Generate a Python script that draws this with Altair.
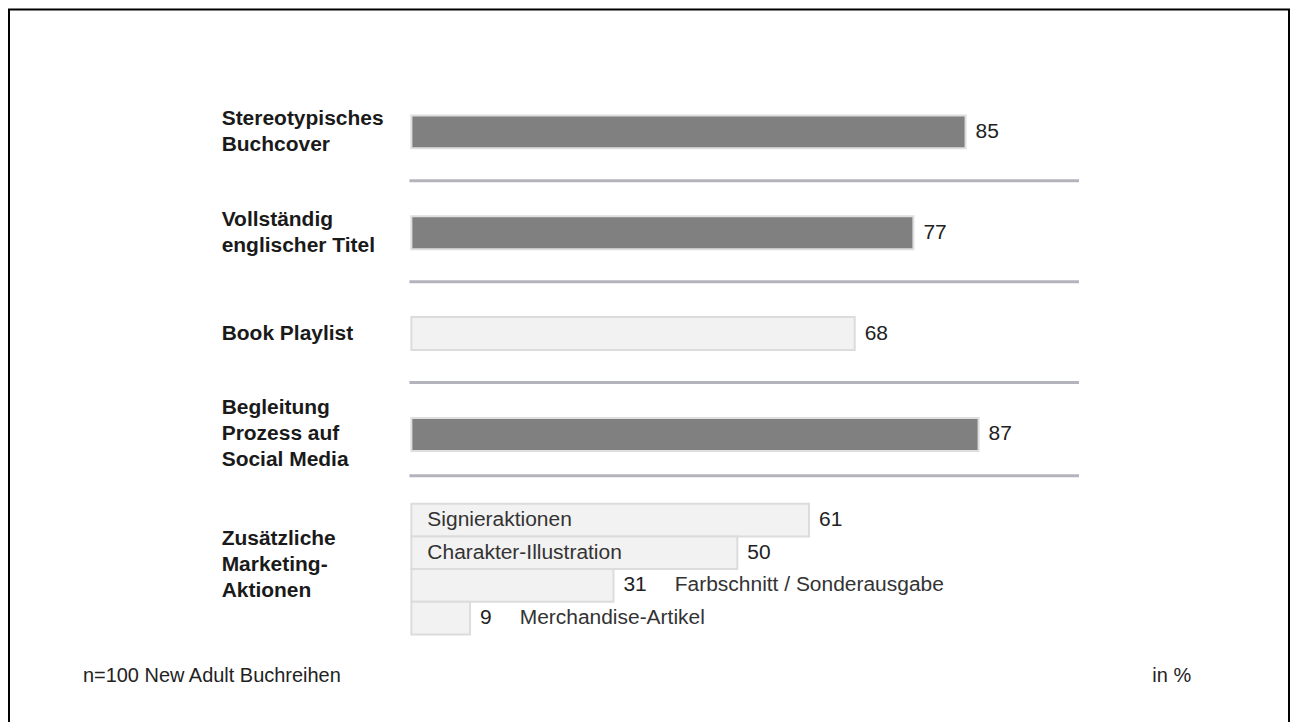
import altair as alt
import pandas as pd

# ---------------- data ----------------
main_labels = [
    "Stereotypisches\nBuchcover",
    "Vollständig\nenglischer Titel",
    "Book Playlist",
    "Begleitung\nProzess auf\nSocial Media",
]
main_values = [85, 77, 68, 87]
main_dark = [True, True, False, True]

group_label = "Zusätzliche\nMarketing-\nAktionen"
sub_labels = [
    "Signieraktionen",
    "Charakter-Illustration",
    "Farbschnitt / Sonderausgabe",
    "Merchandise-Artikel",
]
sub_values = [61, 50, 31, 9]
sub_inside = [True, True, False, False]

footnote = "n=100 New Adult Buchreihen"
unit_note = "in %"

# ---------------- layout ----------------
FONT = "Liberation Sans"
FS = 21
LH = 26
W, H = 1282, 730
PX = 6.53          # pixels per percentage point
X0 = 403           # pixel position of 0 %
ROW_TOP0, ROW_STEP, BAR_H = 106, 101, 33
SUB_TOP0, SUB_STEP = 495, 32.7
LABEL_X = 213

xs = alt.Scale(domain=[-X0 / PX, (W - X0) / PX], nice=False, zero=False)
ys = alt.Scale(domain=[0, H], reverse=True, nice=False, zero=False)


def block_start(center, text):
    n = text.count("\n") + 1
    return center - (n - 1) * LH / 2


bars = []
cat_rows = []
for i, (lab, v, dark) in enumerate(zip(main_labels, main_values, main_dark)):
    top = ROW_TOP0 + ROW_STEP * i
    bars.append(dict(x0=0, x1=v, y0=top, y1=top + BAR_H,
                     fill="#808080" if dark else "#f2f2f2",
                     stroke="#dedede" if dark else "#dcdcdc",
                     val=str(v)))
    cat_rows.append(dict(label=lab, y=block_start(top + BAR_H / 2, lab)))

sub_rows = []
for j, (lab, v, inside) in enumerate(zip(sub_labels, sub_values, sub_inside)):
    top = SUB_TOP0 + SUB_STEP * j
    bars.append(dict(x0=0, x1=v, y0=top, y1=top + SUB_STEP,
                     fill="#f2f2f2", stroke="#dcdcdc", val=str(v)))
    name_x = 0 if inside else v + (10 + 11.7 * len(str(v)) + 28) / PX
    sub_rows.append(dict(label=lab, x=name_x, y=top + SUB_STEP / 2,
                         inside=inside))
sub_top = SUB_TOP0
sub_bottom = SUB_TOP0 + SUB_STEP * len(sub_values)
cat_rows.append(dict(label=group_label,
                     y=block_start((sub_top + sub_bottom) / 2 - 4, group_label)))

bars_df = pd.DataFrame(bars)
bars_df["yc"] = (bars_df["y0"] + bars_df["y1"]) / 2
cat_df = pd.DataFrame(cat_rows)
sub_df = pd.DataFrame(sub_rows)

# separators halfway between groups
group_bounds = [(ROW_TOP0 + ROW_STEP * i, ROW_TOP0 + ROW_STEP * i + BAR_H)
                for i in range(len(main_values))] + [(sub_top, sub_bottom)]
seps = [dict(x0=-0.3, x1=102.4, y=(group_bounds[k][1] + group_bounds[k + 1][0]) / 2 - 1.5)
        for k in range(len(group_bounds) - 1)]
sep_df = pd.DataFrame(seps)

# ---------------- marks ----------------
rects = alt.Chart(bars_df).mark_rect(strokeWidth=2).encode(
    x=alt.X("x0:Q", scale=xs, axis=None),
    x2="x1:Q",
    y=alt.Y("y0:Q", scale=ys, axis=None),
    y2="y1:Q",
    fill=alt.Fill("fill:N", scale=None),
    stroke=alt.Stroke("stroke:N", scale=None),
)

rules = alt.Chart(sep_df).mark_rule(color="#b3b3bb", strokeWidth=3).encode(
    x=alt.X("x0:Q", scale=xs, axis=None),
    x2="x1:Q",
    y=alt.Y("y:Q", scale=ys, axis=None),
)

values = alt.Chart(bars_df).mark_text(
    align="left", baseline="middle", dx=10, font=FONT, fontSize=FS, color="#222222"
).encode(
    x=alt.X("x1:Q", scale=xs, axis=None),
    y=alt.Y("yc:Q", scale=ys, axis=None),
    text="val:N",
)

cats = alt.Chart(cat_df).mark_text(
    align="left", baseline="middle", lineBreak="\n", lineHeight=LH,
    font=FONT, fontSize=FS, fontWeight="bold", color="#1a1a1a"
).encode(
    x=alt.value(LABEL_X),
    y=alt.Y("y:Q", scale=ys, axis=None),
    text="label:N",
)

sub_in = alt.Chart(sub_df[sub_df["inside"]]).mark_text(
    align="left", baseline="middle", dx=16, font=FONT, fontSize=FS, color="#333333"
).encode(
    x=alt.X("x:Q", scale=xs, axis=None),
    y=alt.Y("y:Q", scale=ys, axis=None),
    text="label:N",
)

sub_out = alt.Chart(sub_df[~sub_df["inside"]]).mark_text(
    align="left", baseline="middle", font=FONT, fontSize=FS, color="#333333"
).encode(
    x=alt.X("x:Q", scale=xs, axis=None),
    y=alt.Y("y:Q", scale=ys, axis=None),
    text="label:N",
)

notes_df = pd.DataFrame({"t": [footnote, unit_note], "a": ["l", "r"]})
foot_l = alt.Chart(notes_df[notes_df["a"] == "l"]).mark_text(
    align="left", baseline="middle", font=FONT, fontSize=20, color="#222222"
).encode(x=alt.value(74), y=alt.value(667), text="t:N")
foot_r = alt.Chart(notes_df[notes_df["a"] == "r"]).mark_text(
    align="right", baseline="middle", font=FONT, fontSize=20, color="#222222"
).encode(x=alt.value(1184), y=alt.value(667), text="t:N")

chart = alt.layer(
    rules, rects, values, cats, sub_in, sub_out, foot_l, foot_r
).properties(
    width=W, height=H, padding=1, autosize="none", background="white"
).configure_view(stroke="black", strokeWidth=2)

chart.save("out.html", embed_options={"renderer": "svg", "actions": False})
